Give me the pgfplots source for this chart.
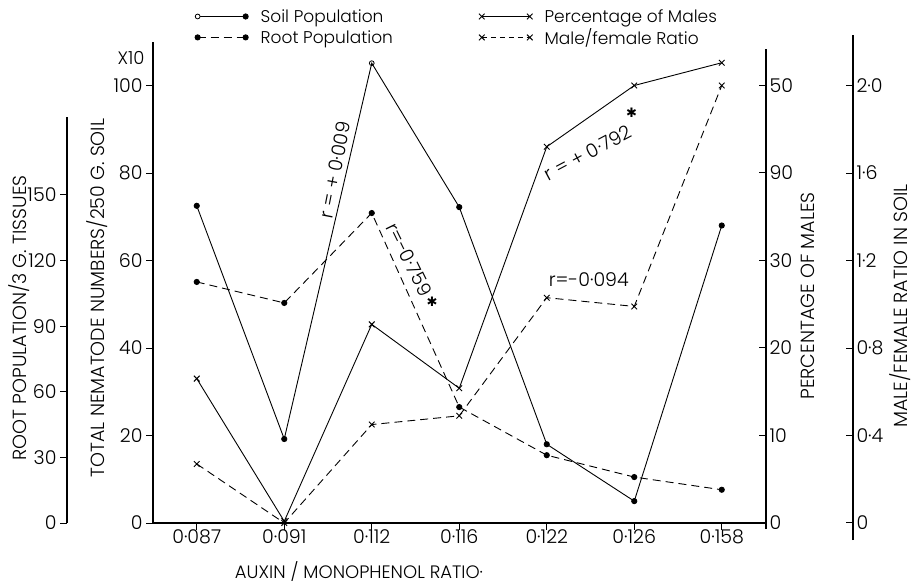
\documentclass[border=0pt]{standalone}
\usepackage{fontspec}
\setmainfont{Poppins}[UprightFont=* Light]
\newfontfamily\dejavu{DejaVu Sans}
\usepackage{pgfplots}
\pgfplotsset{compat=1.18}

% geometry shared by the data axes: 1 category = 87.5pt, 20 soil units = 87.5pt
\pgfplotsset{
  base/.style={scale only axis, at={(153pt,61pt)}, anchor=south west,
    width=612.5pt, height=481.25pt, xmin=-0.5, xmax=6.5, clip=false},
  spine/.style={scale only axis, width=1pt, xmin=0, xmax=1, axis x line=none,
    major tick length=7pt,
    tick style={line width=0.9pt, black},
    yticklabel style={font=\fontsize{19}{19}\selectfont}},
  solidl/.style={black, line width=0.9pt},
  dashl/.style={black, line width=0.9pt, dash pattern=on 8pt off 5pt},
  dot/.style={mark=*, mark size=2.6pt, mark options={solid, fill=black}},
  cross/.style={mark=x, mark size=4pt, mark options={solid, line width=0.9pt}},
  two ends/.style={legend image code/.code={
    \draw[##1, mark repeat=1, mark phase=1] plot coordinates {(0pt,0pt) (48pt,0pt)};}},
}

\begin{document}
\begin{tikzpicture}
\path[use as bounding box] (0,0) rectangle (913pt,584pt);

% soil population (left scale, x10)
\begin{axis}[base, ymin=0, ymax=110,
  axis x line=bottom, axis y line=left,
  axis line style={-, line width=1.1pt},
  tick align=outside, major tick length=7pt,
  tick style={line width=0.9pt, black},
  xtick={0,...,6},
  xticklabels={0·087,0·091,0·112,0·116,0·122,0·126,0·158},
  ytick={0,20,40,60,80,100}, yticklabels={0,20,40,60,80,100},
  ticklabel style={font=\fontsize{19}{19}\selectfont},
  xticklabel style={yshift=4pt},
  legend columns=2,
  legend style={draw=none, fill=none, at={(0.068,1.072)}, anchor=north west,
    font=\fontsize{17}{17}\selectfont, row sep=1pt, inner sep=0pt,
    /tikz/every odd column/.append style={column sep=10pt},
    /tikz/every even column/.append style={column sep=84pt}},
  legend cell align=left,
]
\addplot[solidl, dot, mark indices={1,2,4,5,6,7},
  legend image code/.code={
    \draw[black, line width=0.9pt] (0pt,0pt) -- (48pt,0pt);
    \draw[black, fill=white, line width=0.8pt] (0pt,0pt) circle (2.4pt);
    \fill[black] (48pt,0pt) circle (2.6pt);}]
  coordinates {(0,72.5) (1,19.2) (2,105.1) (3,72.2) (4,18.0) (5,5.0) (6,68.0)};
\addlegendentry{Soil Population}
\addplot[black, only marks, mark=o, mark size=2.4pt, mark options={line width=0.8pt, fill=white}, forget plot]
  coordinates {(2,105.1)};
\addlegendimage{solidl, cross, two ends}
\addlegendentry{Percentage of Males}
\addlegendimage{dashl, dot, two ends}
\addlegendentry{Root Population}
\addlegendimage{black, line width=0.9pt, dash pattern=on 5pt off 4pt, cross, two ends}
\addlegendentry{Male/female Ratio}

\node[rotate=79, font=\fontsize{19}{19}\selectfont] at (axis cs:1.58,80.7) {r = + 0·009};
\node[rotate=-64, font=\fontsize{19}{19}\selectfont] at (axis cs:2.43,60.2) {r=-0·759};
\node[font=\dejavu\fontsize{13}{13}\selectfont] at (axis cs:2.69,50.6) {✱};
\node[rotate=28, font=\fontsize{19}{19}\selectfont] at (axis cs:4.47,84.6) {r = + 0·792};
\node[font=\dejavu\fontsize{13}{13}\selectfont] at (axis cs:4.97,93.7) {✱};
\node[font=\fontsize{19}{19}\selectfont] at (axis cs:4.48,55.6) {r=-0·094};
\end{axis}

% root population (far left scale)
\begin{axis}[base, ymin=0, ymax=220, hide axis]
\addplot[dashl, dot]
  coordinates {(0,110.2) (1,100.6) (2,141.7) (3,53.0) (4,31.0) (5,21.0) (6,15.2)};
\end{axis}

% percentage of males (inner right scale)
\begin{axis}[base, ymin=0, ymax=55, hide axis]
\addplot[solidl, cross]
  coordinates {(0,16.5) (1,0.2) (2,22.7) (3,15.4) (4,43.0) (5,50.0) (6,52.6)};
\end{axis}

% male/female ratio (outer right scale)
\begin{axis}[base, ymin=0, ymax=2.2, hide axis]
\addplot[dashl, cross]
  coordinates {(0,0.27) (1,0.0) (2,0.45) (3,0.49) (4,1.03) (5,0.99) (6,2.0)};
\end{axis}

% extra spines
\begin{axis}[spine, at={(67pt,61pt)}, anchor=south west, height=406pt,
  ymin=0, ymax=185.6, axis y line=left, tick align=outside,
  axis line style={-, line width=1.1pt},
  ytick={0,30,60,90,120,150}, yticklabels={0,30,60,90,120,150}]
\end{axis}
\begin{axis}[spine, at={(766pt,55pt)}, anchor=south east, height=480.4pt,
  ymin=-0.7, ymax=54.2, axis y line=right, tick align=inside,
  axis line style={-, line width=1.1pt},
  ytick={0,10,20,30,40,50}, yticklabels={0,10,20,30,90,50}]
\end{axis}
\begin{axis}[spine, at={(853pt,44pt)}, anchor=south east, height=505pt,
  ymin=-0.078, ymax=2.231, axis y line=right, tick align=inside,
  axis line style={-, line width=1.1pt},
  ytick={0,0.4,0.8,1.2,1.6,2.0}, yticklabels={0,0·4,0·8,1·2,1·6,2·0}]
\end{axis}

\begin{scope}[font=\fontsize{19}{19}\selectfont, inner sep=0pt]
\node[font=\fontsize{18}{18}\selectfont] at (131pt,526pt) {X10};
\node[rotate=90] at (97pt,286pt) {TOTAL NEMATODE NUMBERS/250 G. SOIL};
\node[rotate=90] at (19pt,266pt) {ROOT POPULATION/3 G. TISSUES};
\node[rotate=90] at (808pt,288pt) {PERCENTAGE OF MALES};
\node[rotate=90] at (900pt,278pt) {MALE/FEMALE RATIO IN SOIL};
\node[font=\fontsize{18}{18}\selectfont] at (359pt,12pt) {AUXIN / MONOPHENOL RATIO·};
\end{scope}
\end{tikzpicture}
\end{document}
